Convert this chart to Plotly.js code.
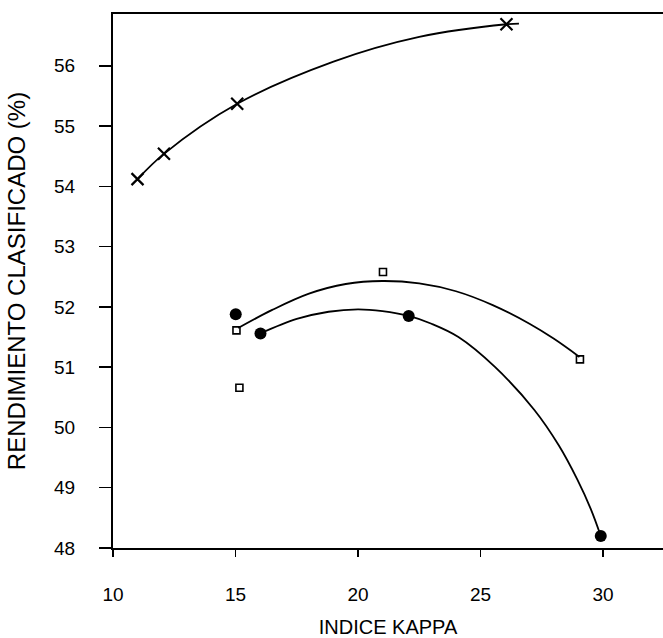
<!DOCTYPE html>
<html>
<head>
<meta charset="utf-8">
<script src="https://cdn.plot.ly/plotly-3.0.1.min.js"></script>
<style>html,body{margin:0;padding:0;background:#fff;overflow:hidden}</style>
</head>
<body>
<div id="chart" style="width:663px;height:638px"></div>
<script>
// Data
const crossX = [11.0, 12.08, 15.07, 26.06];
const crossY = [54.12, 54.54, 55.37, 56.69];
const dotX = [15.01, 16.02, 22.07, 29.91];
const dotY = [51.88, 51.56, 51.85, 48.2];
const squareX = [15.04, 15.16, 21.02, 29.06];
const squareY = [51.61, 50.66, 52.58, 51.13];

// Drawn curves
const curveCrossX = [11.0, 12.08, 15.07, 19.0, 22.5, 26.06, 26.57];
const curveCrossY = [54.12, 54.54, 55.37, 56.07, 56.48, 56.69, 56.7];
const curveDotX = [16.02, 17.5, 18.8, 20.0, 21.0, 22.07, 23.0, 24.1, 25.6, 27.2, 28.2, 28.96, 29.5, 29.91];
const curveDotY = [51.56, 51.8, 51.92, 51.96, 51.93, 51.85, 51.72, 51.5, 51.0, 50.29, 49.7, 49.13, 48.65, 48.2];
const curveSquareX = [15.11, 16.5, 18.0, 19.5, 21.0, 22.5, 24.0, 25.5, 27.0, 28.0, 29.04];
const curveSquareY = [51.65, 51.95, 52.22, 52.38, 52.43, 52.39, 52.26, 52.03, 51.72, 51.47, 51.17];

const xTicks = [10, 15, 20, 25, 30];
const yTicks = [48, 49, 50, 51, 52, 53, 54, 55, 56];

const lineStyle = {color: '#000', width: 1.8, shape: 'spline', smoothing: 1};
const traces = [
  {x: curveCrossX, y: curveCrossY, mode: 'lines', line: lineStyle, hoverinfo: 'skip'},
  {x: curveDotX, y: curveDotY, mode: 'lines', line: lineStyle, hoverinfo: 'skip'},
  {x: curveSquareX, y: curveSquareY, mode: 'lines', line: lineStyle, hoverinfo: 'skip'},
  {x: crossX, y: crossY, mode: 'markers', name: 'x',
   marker: {symbol: 'x-thin', size: 12, color: '#000', line: {color: '#000', width: 2.2}}},
  {x: dotX, y: dotY, mode: 'markers', name: 'dot',
   marker: {symbol: 'circle', size: 12, color: '#000'}},
  {x: squareX, y: squareY, mode: 'markers', name: 'square',
   marker: {symbol: 'square-open', size: 7, color: '#000', line: {color: '#000', width: 1.6}}}
];

const font = {family: '"Liberation Sans", Arial, sans-serif', color: '#000'};
const layout = {
  width: 663, height: 638,
  margin: {l: 113, r: 0, t: 14, b: 90},
  paper_bgcolor: '#fff', plot_bgcolor: '#fff',
  showlegend: false,
  font: font,
  xaxis: {
    range: [10, 32.45], tickvals: xTicks, ticktext: xTicks.map(String),
    showgrid: false, zeroline: false,
    showline: true, linecolor: '#000', linewidth: 2, mirror: true,
    ticks: 'outside', ticklen: 7, tickwidth: 1.5, tickcolor: '#000',
    tickfont: {family: font.family, size: 19, color: '#000'},
    ticklabelstandoff: 21,
    title: {text: 'INDICE KAPPA', font: {family: font.family, size: 20, color: '#000'}, standoff: 23}
  },
  yaxis: {
    range: [48, 56.86], tickvals: yTicks, ticktext: yTicks.map(String),
    showgrid: false, zeroline: false,
    showline: true, linecolor: '#000', linewidth: 2,
    ticks: 'outside', ticklen: 12, tickwidth: 1.5, tickcolor: '#000',
    tickfont: {family: font.family, size: 19, color: '#000'},
    ticklabelstandoff: 20,
    title: {text: 'RENDIMIENTO CLASIFICADO (%)', font: {family: font.family, size: 24, color: '#000'}, standoff: 22}
  }
};

Plotly.newPlot('chart', traces, layout, {staticPlot: true, displayModeBar: false});
</script>
</body>
</html>
